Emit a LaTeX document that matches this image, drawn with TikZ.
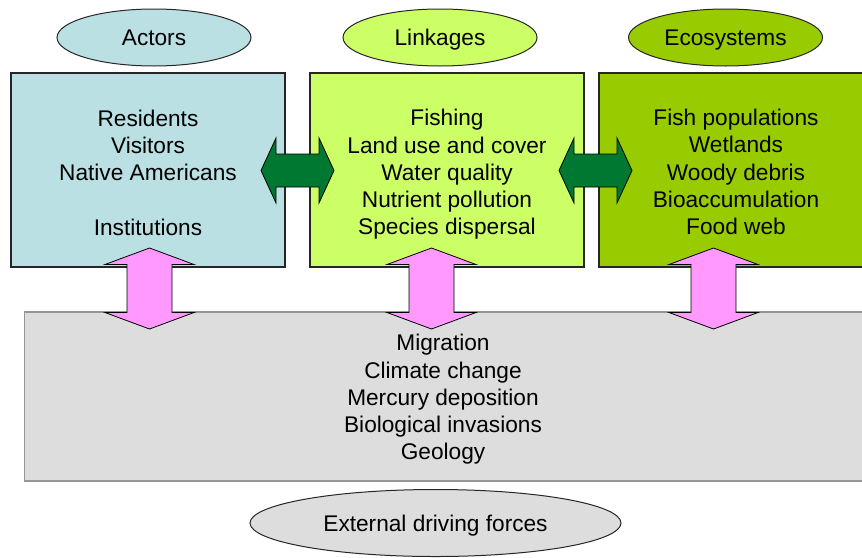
\documentclass[tikz,border=0pt]{standalone}
\usepackage{fontspec}
\setmainfont{Liberation Sans}
\usetikzlibrary{shapes.geometric,calc}
\definecolor{actorc}{HTML}{BBE0E3}
\definecolor{linkc}{HTML}{CCFF66}
\definecolor{ecoc}{HTML}{99CC00}
\definecolor{grayc}{HTML}{DDDDDD}
\definecolor{grayline}{HTML}{969696}
\definecolor{greenc}{RGB}{0,120,50}
\definecolor{pinkc}{HTML}{FF99FF}
\def\u{0.75pt}
\tikzset{
  txt/.style={font=\fontsize{17}{20.4}\selectfont, align=center, inner sep=0pt},
  box/.style={draw=black!85, line width=0.9pt, rectangle, inner sep=0pt,
    minimum width=274*\u, minimum height=194*\u},
  oval/.style={draw=black!85, line width=0.75pt, ellipse, inner sep=0pt,
    minimum width=194*\u, minimum height=57*\u, txt, text height=12.2pt, text depth=0pt},
  arrowline/.style={draw=black, line width=0.6pt, line join=miter},
  greenarrow/.pic={\draw[arrowline, fill=greenc] (-36.5,0) -- (-21.5,-32.5) -- (-21.5,-16.5)
     -- (21.5,-16.5) -- (21.5,-32.5) -- (36.5,0) -- (21.5,32.5) -- (21.5,16.5)
     -- (-21.5,16.5) -- (-21.5,32.5) -- cycle;},
  pinkarrow/.pic={\draw[arrowline, fill=pinkc] (0,-40.5) -- (44.5,-24) -- (22.5,-24)
     -- (22.5,24) -- (44.5,24) -- (0,40.5) -- (-44.5,24) -- (-22.5,24)
     -- (-22.5,-24) -- (-44.5,-24) -- cycle;}
}
\begin{document}
\begin{tikzpicture}[x=0.75pt,y=-0.75pt]
\useasboundingbox (0,0) rectangle (862,557);
\clip (0,0) rectangle (862,557);
% top ovals
\node[oval, fill=actorc] (oactors) at (154,37.5) {Actors};
\node[oval, fill=linkc] (olink) at (440,37.5) {Linkages};
\node[oval, fill=ecoc] (oeco) at (725.5,37.5) {Ecosystems};
% boxes
\node[box, fill=actorc] (actors) at (148,170) {};
\node[box, fill=linkc] (link) at (447,170) {};
\node[box, fill=ecoc] (eco) at (736,170) {};
\node[txt] (tactors) at ($(actors.center)+(0,2.5)$) {Residents\\Visitors\\Native Americans\\[20.4pt]Institutions};
\node[txt] (tlink) at ($(link.center)+(0,4.5)$) {Fishing\\Land use and cover\\Water quality\\Nutrient pollution\\Species dispersal};
\node[txt] (teco) at ($(eco.center)+(0,2)$) {Fish populations\\Wetlands\\Woody debris\\Bioaccumulation\\Food web};
% external forces
\node[draw=grayline, line width=0.9pt, fill=grayc, rectangle, inner sep=0pt,
  minimum width=860*\u, minimum height=169*\u] (ext) at (454.5,396.5) {};
\node[txt] (exttext) at (443,399.5) {Migration\\Climate change\\Mercury deposition\\Biological invasions\\Geology};
\node[oval, fill=grayc, minimum width=371*\u, minimum height=67*\u] (oext) at (435.5,523) {External driving forces};
% arrows
\pic (g1) at (297.5,170.5) {greenarrow};
\pic (g2) at (595.5,170.5) {greenarrow};
\pic (p1) at (149.5,288.5) {pinkarrow};
\pic (p2) at (431.5,288.5) {pinkarrow};
\pic (p3) at (713.5,288.5) {pinkarrow};
\end{tikzpicture}
\end{document}
